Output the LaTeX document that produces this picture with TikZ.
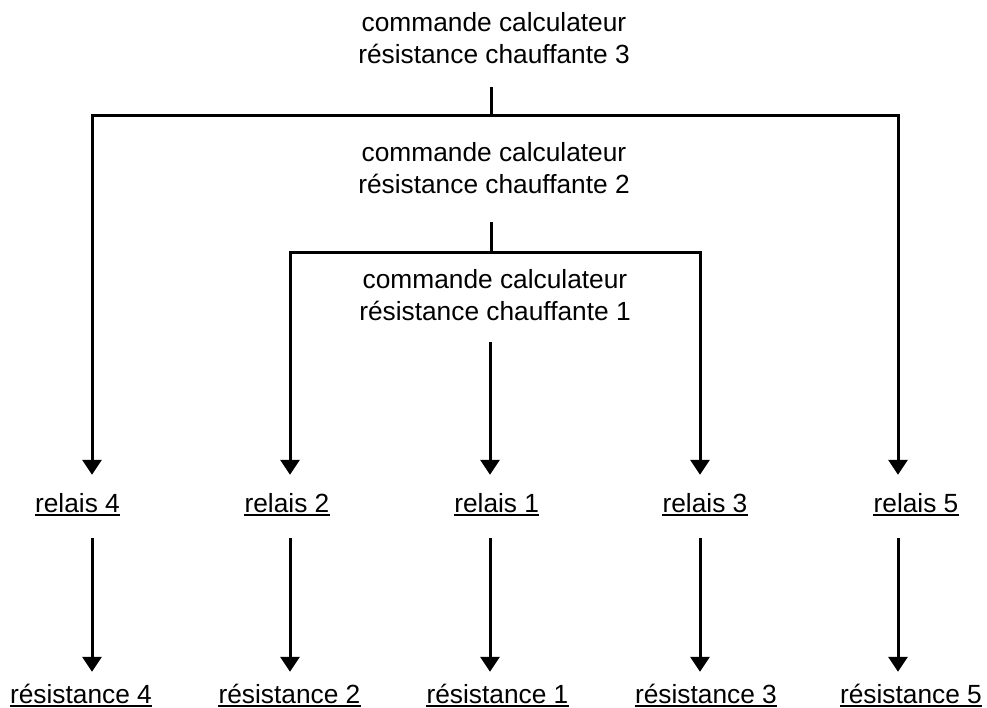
\documentclass[tikz,border=0pt]{standalone}
\usepackage{fontspec}
\setmainfont{Liberation Sans}
\usetikzlibrary{arrows.meta}
\begin{document}
\begin{tikzpicture}[x=1pt,y=-1pt,
  wire/.style={line width=3pt},
  arr/.style={line width=3pt,-{Triangle[length=15pt,width=19pt]}},
  lbl/.style={font=\fontsize{26.3}{31.6}\selectfont, inner sep=0pt, align=center, anchor=base},
  rel/.style={font=\fontsize{26.3}{31.6}\selectfont, inner xsep=0pt, inner ysep=18pt, text height=19pt, text depth=8pt, anchor=base},
  res/.style={font=\fontsize{26.3}{31.6}\selectfont, inner xsep=0pt, inner ysep=8pt, text height=23pt, text depth=0pt, anchor=base},
  ul/.style={line width=2pt}]
\useasboundingbox (0,0) rectangle (987,707);

% column axes
\coordinate (c4) at (92,0);
\coordinate (c2) at (290,0);
\coordinate (c1) at (490,0);
\coordinate (c3) at (700,0);
\coordinate (c5) at (898,0);

% command texts (base = baseline of the last line)
\node[lbl] (t3) at (494,63.3) {commande calculateur\\résistance chauffante 3};
\node[lbl] (t2) at (494,193.3) {commande calculateur\\résistance chauffante 2};
\node[lbl] (t1) at (495,320) {commande calculateur\\résistance chauffante 1};

% relays
\node[rel] (r4) at (77.5,512) {relais 4};
\node[rel] (r2) at (287,512) {relais 2};
\node[rel] (r1) at (496.7,512) {relais 1};
\node[rel] (r3) at (705,512) {relais 3};
\node[rel] (r5) at (916,512) {relais 5};

% resistances
\node[res] (s4) at (81,703) {résistance 4};
\node[res] (s2) at (289.5,703) {résistance 2};
\node[res] (s1) at (497.5,703) {résistance 1};
\node[res] (s3) at (706,703) {résistance 3};
\node[res] (s5) at (911,703) {résistance 5};

% underlines
\foreach \n in {r4,r2,r1,r3,r5,s4,s2,s1,s3,s5}
  \draw[ul] ([yshift=-2.5pt]\n.base west) -- ([yshift=-2.5pt]\n.base east);

% junctions
\coordinate (k3) at (491,87);
\coordinate (j3) at (491,115.5);
\coordinate (k2) at (491,222);
\coordinate (j2) at (491,252);
\coordinate (k1) at (490,342);

\draw[wire] (k3) -- (j3);
\draw[arr] (j3) -| (c4 |- r4.north);
\draw[arr] (j3) -| (c5 |- r5.north);

\draw[wire] (k2) -- (j2);
\draw[arr] (j2) -| (c2 |- r2.north);
\draw[arr] (j2) -| (c3 |- r3.north);

\draw[arr] (k1) -- (c1 |- r1.north);

\foreach \a/\b/\c in {r4/s4/c4,r2/s2/c2,r1/s1/c1,r3/s3/c3,r5/s5/c5}
  \draw[arr] (\c |- \a.south) -- (\c |- \b.north);
\end{tikzpicture}
\end{document}
